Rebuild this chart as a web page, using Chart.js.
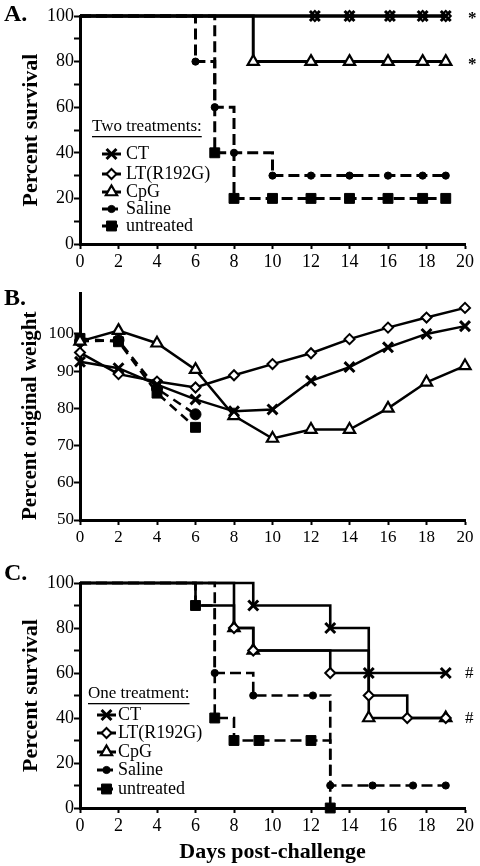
<!DOCTYPE html>
<html>
<head>
<meta charset="utf-8">
<script src="https://cdn.jsdelivr.net/npm/chart.js@4.4.1/dist/chart.umd.min.js"></script>
<style>
  html, body { margin: 0; padding: 0; background: #fff; }
  #wrap { position: relative; width: 480px; height: 866px; overflow: hidden; }
  .panel { position: absolute; left: 0; width: 480px; }
  #panelA { top: 0; height: 272px; }
  #panelB { top: 272px; height: 280px; }
  #panelC { top: 560px; height: 306px; }
</style>
</head>
<body>
<div id="wrap">
  <div class="panel" id="panelA"><canvas id="chartA"></canvas></div>
  <div class="panel" id="panelB"><canvas id="chartB"></canvas></div>
  <div class="panel" id="panelC"><canvas id="chartC"></canvas></div>
</div>
<script>
// ---- data ----
const groups = ["CT", "LT(R192G)", "CpG", "Saline", "untreated"];
const dayTicks = [0, 2, 4, 6, 8, 10, 12, 14, 16, 18, 20];
const survivalTicks = [0, 10, 20, 30, 40, 50, 60, 70, 80, 90, 100];
const weightTicks = [50, 60, 70, 80, 90, 100];

// A. two treatments (Kaplan-Meier steps, mark = 1 where a symbol is drawn)
const aCtDays = [0, 12.2, 14, 16.1, 17.8, 19];
const aCtSurv = [100, 100, 100, 100, 100, 100];
const aCtMark = [0, 1, 1, 1, 1, 1];
const aLtDays = [0, 12.2, 14, 16.1, 17.8, 19];
const aLtSurv = [100, 100, 100, 100, 100, 100];
const aLtMark = [0, 1, 1, 1, 1, 1];
const aCpgDays = [0, 9, 12, 14, 16, 17.8, 19];
const aCpgSurv = [100, 80, 80, 80, 80, 80, 80];
const aCpgMark = [0, 1, 1, 1, 1, 1, 1];
const aSalDays = [0, 6, 7, 8, 10, 12, 14, 16, 17.8, 19];
const aSalSurv = [100, 80, 60, 40, 30, 30, 30, 30, 30, 30];
const aSalMark = [0, 1, 1, 1, 1, 1, 1, 1, 1, 1];
const aUntDays = [0, 7, 8, 10, 12, 14, 16, 17.8, 19];
const aUntSurv = [100, 40, 20, 20, 20, 20, 20, 20, 20];
const aUntMark = [0, 1, 1, 1, 1, 1, 1, 1, 1];

// B. percent original weight
const bDays = [0, 2, 4, 6, 8, 10, 12, 14, 16, 18, 20];
const bCt = [92.5, 90.8, 86.4, 82.4, 79.2, 79.7, 87.4, 91.1, 96.4, 100, 102.1];
const bLt = [95, 89.2, 87.2, 85.6, 88.9, 91.9, 94.8, 98.6, 101.7, 104.4, 107];
const bCpg = [98, 100.9, 97.5, 90.4, 78, 71.9, 74.3, 74.3, 80, 87, 91.4];
const bShortDays = [0, 2, 4, 6];
const bSal = [98, 98.3, 85.3, 78.4];
const bUnt = [98.8, 97.9, 84.1, 74.9];

// C. one treatment
const cCtDays = [0, 9, 13, 15, 19];
const cCtSurv = [100, 90, 80, 60, 60];
const cCtMark = [0, 1, 1, 1, 1];
const cLtDays = [0, 6, 8, 9, 13, 15, 17, 19];
const cLtSurv = [100, 90, 80, 70, 60, 50, 40, 40];
const cLtMark = [0, 0, 1, 1, 1, 1, 1, 1];
const cCpgDays = [0, 8, 9, 15, 19];
const cCpgSurv = [100, 80, 70, 40, 40];
const cCpgMark = [0, 1, 1, 1, 1];
const cSalDays = [0, 7, 9, 12.1, 13, 15.2, 17.3, 19];
const cSalSurv = [100, 60, 50, 50, 10, 10, 10, 10];
const cSalMark = [0, 1, 1, 1, 1, 1, 1, 1];
const cUntDays = [0, 6, 7, 8, 9.3, 12, 13];
const cUntSurv = [100, 90, 40, 30, 30, 30, 0];
const cUntMark = [0, 1, 1, 1, 1, 1, 1];

// ---- styles ----
const SERIF = '"Liberation Serif", "Times New Roman", serif';
Chart.defaults.font.family = SERIF;
Chart.defaults.color = "#000";

const looks = [
  { pointStyle: "crossRot", r: 7, fill: "#000", bw: 3, dash: [] },
  { pointStyle: "rectRot", r: 5, fill: "#fff", bw: 2, dash: [] },
  { pointStyle: "triangle", r: 6.5, fill: "#fff", bw: 2.2, dash: [] },
  { pointStyle: "circle", r: 3.6, fill: "#000", bw: 1, dash: [11, 5] },
  { pointStyle: "rect", r: 7, fill: "#000", bw: 1, dash: [11, 5] }
];

function pts(days, vals) {
  return days.map((d, i) => ({ x: d, y: vals[i] }));
}

function kmSet(i, days, vals, marks, width) {
  const s = looks[i];
  return {
    label: groups[i],
    data: pts(days, vals),
    stepped: "before",
    borderColor: "#000",
    borderWidth: width,
    borderDash: s.dash,
    pointStyle: s.pointStyle,
    pointRadius: marks.map(m => (m ? s.r : 0)),
    pointBackgroundColor: s.fill,
    pointBorderColor: "#000",
    pointBorderWidth: s.bw,
    keyRadius: s.r,
    clip: false
  };
}

function weightSet(i, days, vals) {
  const s = looks[i];
  return {
    label: groups[i],
    data: pts(days, vals),
    borderColor: "#000",
    borderWidth: 2.5,
    borderDash: s.dash.length ? [9, 6] : [],
    pointStyle: s.pointStyle,
    pointRadius: i === 3 ? 5.5 : s.r,
    pointBackgroundColor: s.fill,
    pointBorderColor: "#000",
    pointBorderWidth: s.bw,
    clip: false
  };
}

// letters, significance marks and the in-plot key
const decoPlugin = {
  id: "deco",
  afterDraw(chart, args, opts) {
    const ctx = chart.ctx;
    const y = chart.scales.y;
    ctx.save();
    ctx.fillStyle = "#000";
    ctx.textBaseline = "middle";
    ctx.font = "bold 24px " + SERIF;
    ctx.fillText(opts.letter, opts.letterX, opts.letterY);

    (opts.notes || []).forEach(n => {
      ctx.font = n.font;
      ctx.fillText(n.text, n.x, y.getPixelForValue(n.value) + (n.dy || 0));
    });

    const key = opts.key;
    if (key) {
      ctx.font = "17px " + SERIF;
      ctx.fillText(key.title, key.titleX, key.titleY);
      const w = ctx.measureText(key.title).width;
      ctx.fillRect(key.titleX, key.titleY + 9, w, 1.3);
      chart.data.datasets.forEach((ds, i) => {
        const ry = key.rows[i];
        ctx.strokeStyle = "#000";
        ctx.lineWidth = 3;
        ctx.setLineDash(ds.borderDash.length ? [6, 4] : []);
        ctx.beginPath();
        ctx.moveTo(key.x0, ry);
        ctx.lineTo(key.x1, ry);
        ctx.stroke();
        ctx.setLineDash([]);
        ctx.fillStyle = ds.pointBackgroundColor;
        ctx.lineWidth = ds.pointBorderWidth;
        Chart.helpers.drawPoint(ctx, {
          pointStyle: ds.pointStyle,
          radius: ds.keyRadius,
          borderWidth: ds.pointBorderWidth,
          rotation: 0
        }, (key.x0 + key.x1) / 2, ry);
        ctx.fillStyle = "#000";
        ctx.font = "18px " + SERIF;
        ctx.fillText(ds.label, key.textX, ry);
      });
    }
    ctx.restore();
  }
};

function xAxis(h, fontSize, title) {
  return {
    type: "linear",
    min: 0,
    max: 20,
    afterBuildTicks: axis => { axis.ticks = dayTicks.map(v => ({ value: v })); },
    afterFit: axis => { axis.height = h; },
    border: { display: true, color: "#000", width: 3 },
    grid: { drawOnChartArea: false, drawTicks: true, tickLength: 5, tickWidth: 2, tickColor: "#000" },
    ticks: { font: { size: fontSize }, padding: 2, maxRotation: 0, autoSkip: false },
    title: title || { display: false }
  };
}

function yAxis(min, max, tickList, fontSize, titleText, titleSize, every, align) {
  return {
    type: "linear",
    min: min,
    max: max,
    afterBuildTicks: axis => { axis.ticks = tickList.map(v => ({ value: v })); },
    afterFit: axis => { axis.width = 80; },
    border: { display: true, color: "#000", width: 3 },
    grid: { drawOnChartArea: false, drawTicks: true, tickLength: 6, tickWidth: 2, tickColor: "#000" },
    ticks: {
      font: { size: fontSize },
      padding: 0,
      autoSkip: false,
      callback: v => (v % every === 0 ? v : "")
    },
    title: {
      display: true,
      text: titleText,
      align: align || "center",
      font: { size: titleSize, weight: "bold" },
      padding: { top: 18, bottom: 0 }
    }
  };
}

function baseOptions(padTop, scales, deco) {
  return {
    responsive: true,
    maintainAspectRatio: false,
    animation: false,
    layout: { padding: { top: padTop, right: 15, left: 0, bottom: 0 } },
    plugins: { legend: { display: false }, tooltip: { enabled: false }, deco: deco },
    scales: scales
  };
}

// ---- A ----
new Chart(document.getElementById("chartA"), {
  type: "line",
  data: {
    datasets: [
      kmSet(0, aCtDays, aCtSurv, aCtMark, 3),
      kmSet(1, aLtDays, aLtSurv, aLtMark, 3),
      kmSet(2, aCpgDays, aCpgSurv, aCpgMark, 3),
      kmSet(3, aSalDays, aSalSurv, aSalMark, 3),
      kmSet(4, aUntDays, aUntSurv, aUntMark, 3)
    ]
  },
  options: baseOptions(16, {
    x: xAxis(28, 18),
    y: yAxis(0, 100, survivalTicks, 18, "Percent survival", 22, 20)
  }, {
    letter: "A.", letterX: 4, letterY: 15,
    notes: [
      { text: "*", value: 100, x: 468, dy: 3, font: "bold 17px " + SERIF },
      { text: "*", value: 80, x: 468, dy: 3, font: "bold 17px " + SERIF }
    ],
    key: { title: "Two treatments:", titleX: 92, titleY: 127, x0: 102, x1: 121, textX: 126, rows: [154, 174, 192, 209, 226] }
  }),
  plugins: [decoPlugin]
});

// ---- B ----
new Chart(document.getElementById("chartB"), {
  type: "line",
  data: {
    datasets: [
      weightSet(0, bDays, bCt),
      weightSet(1, bDays, bLt),
      weightSet(2, bDays, bCpg),
      weightSet(3, bShortDays, bSal),
      weightSet(4, bShortDays, bUnt)
    ]
  },
  options: baseOptions(21, {
    x: xAxis(32, 17),
    y: yAxis(50, 111, weightTicks, 17, "Percent original weight", 21, 10, "start")
  }, {
    letter: "B.", letterX: 4, letterY: 27
  }),
  plugins: [decoPlugin]
});

// ---- C ----
new Chart(document.getElementById("chartC"), {
  type: "line",
  data: {
    datasets: [
      kmSet(0, cCtDays, cCtSurv, cCtMark, 2.6),
      kmSet(1, cLtDays, cLtSurv, cLtMark, 2.6),
      kmSet(2, cCpgDays, cCpgSurv, cCpgMark, 2.6),
      kmSet(3, cSalDays, cSalSurv, cSalMark, 2.6),
      kmSet(4, cUntDays, cUntSurv, cUntMark, 2.6)
    ]
  },
  options: baseOptions(23, {
    x: xAxis(58, 18, {
      display: true,
      text: "Days post-challenge",
      font: { size: 22, weight: "bold" },
      padding: { top: 0, bottom: 0 }
    }),
    y: yAxis(0, 100, survivalTicks, 18, "Percent survival", 22, 20)
  }, {
    letter: "C.", letterX: 4, letterY: 14,
    notes: [
      { text: "#", value: 60, x: 465, dy: 1, font: "17px " + SERIF },
      { text: "#", value: 40, x: 465, dy: 1, font: "17px " + SERIF }
    ],
    key: { title: "One treatment:", titleX: 88, titleY: 134, x0: 97, x1: 116, textX: 118, rows: [155, 173, 192, 210, 229] }
  }),
  plugins: [decoPlugin]
});
</script>
</body>
</html>
